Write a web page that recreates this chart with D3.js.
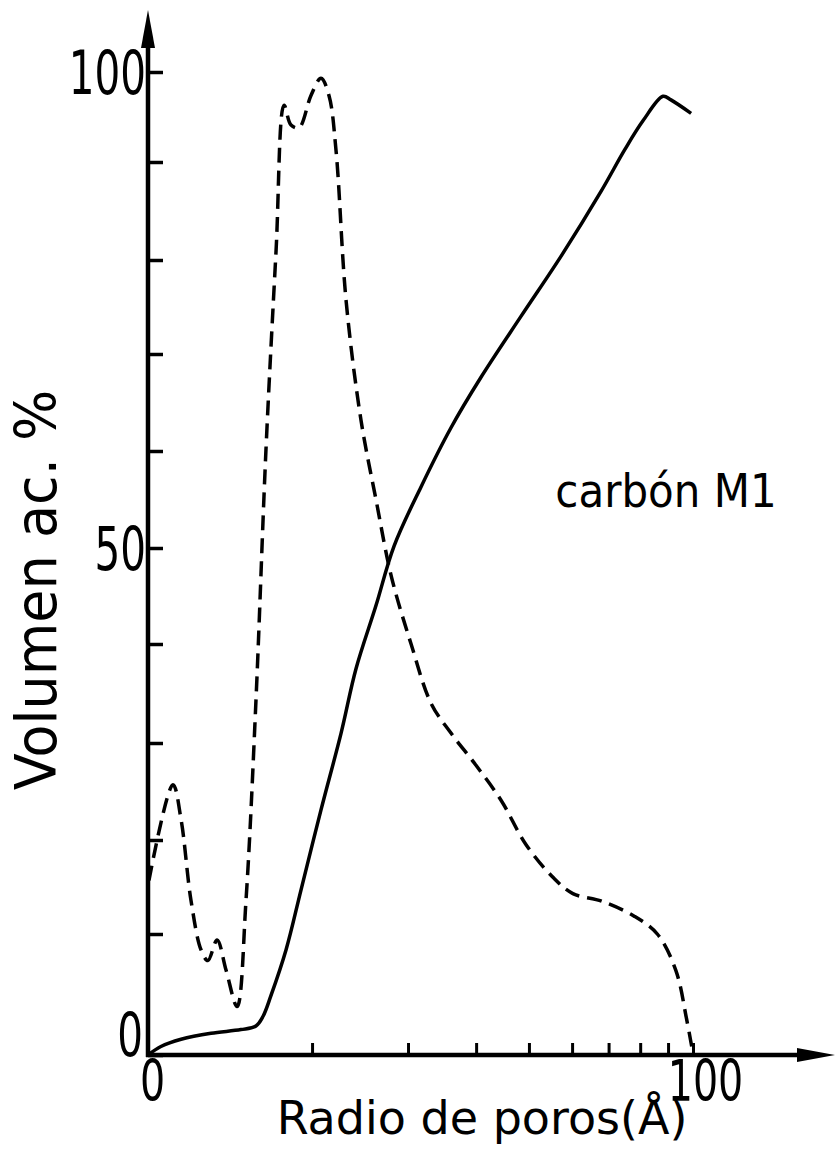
<!DOCTYPE html>
<html>
<head>
<meta charset="utf-8">
<script src="https://cdn.jsdelivr.net/npm/d3@7"></script>
<style>
  body { margin: 0; background: #fff; }
  svg text { fill: #000; }
</style>
</head>
<body>
<svg id="chart" width="835" height="1149"></svg>
<script>
// radio de poros (A), eje log, el origen es 10 A
const radioDist = [10.04, 11.11, 11.5, 11.99, 12.51, 12.88, 13.39, 13.91, 14.57, 15.13, 15.78, 16.46, 17.18, 17.77, 18.3, 18.93, 19.91, 20.77, 21.48, 22.13, 23.09, 24.59, 26.2, 27.97, 30.39, 33.07, 35.97, 39.98, 44.44, 49.4, 55.4, 60.2, 68.0, 78.0, 86.0, 93.0, 97.3, 100.0];
const volDist = [15.7, 25.7, 22.1, 13.6, 8.7, 7.8, 9.5, 7.0, 4.0, 13.6, 34.3, 60.1, 81.0, 96.3, 94.1, 93.8, 97.4, 99.3, 97.4, 91.3, 75.7, 63.2, 55.0, 47.0, 40.0, 34.0, 31.0, 27.7, 24.1, 19.5, 16.0, 14.3, 13.5, 11.9, 10.0, 7.0, 3.0, 0.1];

const radioAc = [10.0, 10.56, 11.5, 13.05, 14.81, 15.78, 16.26, 16.81, 17.92, 19.09, 20.77, 22.61, 24.08, 26.2, 28.28, 31.69, 35.97, 40.83, 48.34, 57.28, 67.8, 75.0, 81.0, 88.1, 91.1, 99.2];
const volAc = [0, 0.7, 1.3, 1.8, 2.1, 2.4, 3.2, 4.9, 8.7, 14.7, 23.1, 31.0, 37.5, 44.0, 50.2, 56.3, 62.4, 67.6, 74.0, 80.4, 87.0, 91.4, 94.6, 97.3, 96.9, 95.4];

const yTicks = [0, 10, 20, 30, 40, 50, 60, 70, 80, 90, 100];
const xTicks = [10, 20, 30, 40, 50, 60, 70, 80, 90, 100];

const labelFont = '"DejaVu Sans", sans-serif';
const numFont = '"DejaVu Sans Condensed", "DejaVu Sans", sans-serif';

const svg = d3.select('#chart');

// escala y dibujada a mano, por eso es por tramos
const y = d3.scaleLinear()
  .domain(yTicks)
  .range([1055, 934, 840, 743, 644, 548, 451, 354, 260, 162, 72]);

const x = d3.scaleLog()
  .domain([10, 100])
  .range([148, 693]);

// ejes
const yAxis = svg.append('g')
  .attr('transform', `translate(${x(10)},0)`)
  .call(d3.axisLeft(y)
    .tickValues(yTicks)
    .tickSizeInner(-15).tickSizeOuter(0)
    .tickPadding(2)
    .tickFormat(d => (d === 100 || d === 50 || d === 0) ? d : ''));
yAxis.select('.domain').remove();
yAxis.selectAll('.tick line').attr('stroke', '#000').attr('stroke-width', 3.5);
yAxis.selectAll('.tick text')
  .attr('font-family', numFont)
  .attr('font-size', 45).attr('dy', '0.36em')
  .attr('transform', 'scale(1,1.33)');
yAxis.selectAll('.tick').filter(d => d === 0).select('text').attr('dy', '0.0em').attr('dx', -3);

const xAxis = svg.append('g')
  .attr('transform', `translate(0,${y(0)})`)
  .call(d3.axisBottom(x)
    .tickValues(xTicks)
    .tickSizeInner(-12).tickSizeOuter(0)
    .tickPadding(2)
    .tickFormat(d => d === 10 ? '0' : d === 100 ? '100' : ''));
xAxis.select('.domain').remove();
xAxis.selectAll('.tick line').attr('stroke', '#000').attr('stroke-width', 3);
xAxis.selectAll('.tick text')
  .attr('font-family', numFont)
  .attr('font-size', 44).attr('dy', '0.76em')
  .attr('transform', 'scale(1,1.3)');
xAxis.selectAll('.tick').filter(d => d === 100).select('text').attr('dx', 12);
xAxis.selectAll('.tick').filter(d => d === 10).select('text').attr('dx', 4);

svg.append('line')
  .attr('x1', x(10)).attr('y1', y(0) + 2)
  .attr('x2', x(10)).attr('y2', 40)
  .attr('stroke', '#000').attr('stroke-width', 4.5);
svg.append('path')
  .attr('d', `M${x(10)},10 L${x(10) + 7},48 L${x(10) - 7},48 Z`)
  .attr('fill', '#000');

svg.append('line')
  .attr('x1', x(10) - 2).attr('y1', y(0))
  .attr('x2', 805).attr('y2', y(0))
  .attr('stroke', '#000').attr('stroke-width', 4.5);
svg.append('path')
  .attr('d', `M835,${y(0)} L797,${y(0) - 7} L797,${y(0) + 7} Z`)
  .attr('fill', '#000');

// curvas
const lineDist = d3.line()
  .x((d, i) => x(radioDist[i]))
  .y(d => y(d))
  .curve(d3.curveCatmullRom.alpha(0.5));

const lineAc = d3.line()
  .x((d, i) => x(radioAc[i]))
  .y(d => y(d))
  .curve(d3.curveCatmullRom.alpha(0.5));

svg.append('path')
  .datum(volDist)
  .attr('d', lineDist)
  .attr('fill', 'none')
  .attr('stroke', '#000')
  .attr('stroke-width', 3.5)
  .attr('stroke-dasharray', '15 8');

svg.append('path')
  .datum(volAc)
  .attr('d', lineAc)
  .attr('fill', 'none')
  .attr('stroke', '#000')
  .attr('stroke-width', 3.5);

// textos
svg.append('text')
  .attr('transform', 'translate(666,507) scale(1,1.12)')
  .attr('text-anchor', 'middle')
  .attr('font-family', labelFont)
  .attr('font-size', 42)
  .text('carbón M1');

svg.append('text')
  .attr('transform', 'translate(482,1134)')
  .attr('text-anchor', 'middle')
  .attr('font-family', labelFont)
  .attr('font-size', 46)
  .text('Radio de poros(Å)');

svg.append('text')
  .attr('transform', 'translate(56,590) rotate(-90) scale(1,1.05)')
  .attr('text-anchor', 'middle')
  .attr('font-family', labelFont)
  .attr('font-size', 54)
  .text('Volumen  ac. %');
</script>
</body>
</html>
